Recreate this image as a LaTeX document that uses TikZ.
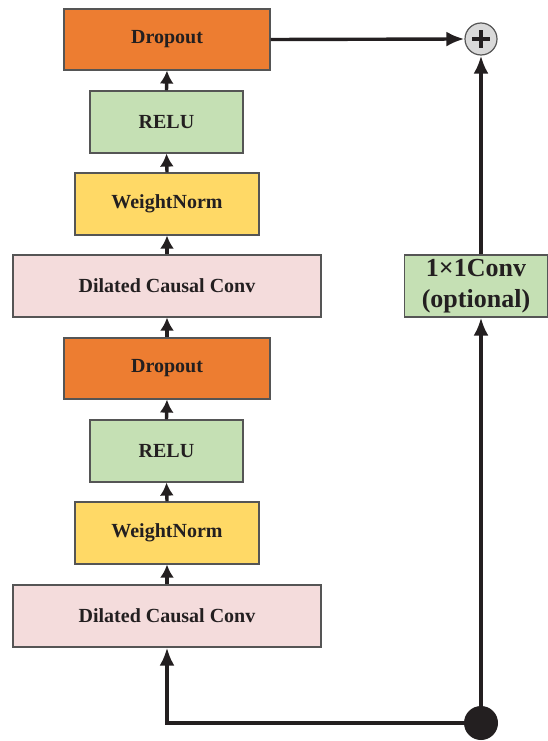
\documentclass[tikz,border=0pt]{standalone}
\usepackage{fontspec}
\setmainfont{Liberation Serif}
\usetikzlibrary{arrows.meta}
\definecolor{cdrop}{HTML}{ED7D31}
\definecolor{crelu}{HTML}{C5E0B4}
\definecolor{cwn}{HTML}{FFD966}
\definecolor{cdcc}{HTML}{F4DCDC}
\definecolor{cbord}{HTML}{555555}
\definecolor{cline}{HTML}{231F20}
\begin{document}
\begin{tikzpicture}[x=1pt,y=-1pt,
  blk/.style={draw=cbord,line width=1.2pt,inner sep=0pt,font=\fontsize{20}{22}\selectfont\bfseries,text=cline},
  conn/.style={draw=cline,line width=3.4pt,-{Latex[length=13pt,width=14pt]}},
  bigconn/.style={draw=cline,line width=3.4pt,-{Latex[length=18pt,width=15pt]}}]
\useasboundingbox (0,0) rectangle (548,741);
\node[blk,fill=cdrop,minimum width=206pt,minimum height=61pt] (d1) at (167,39.5) {Dropout};
\node[blk,fill=crelu,minimum width=153pt,minimum height=62pt] (r1) at (166.5,122) {RELU};
\node[blk,fill=cwn,minimum width=184pt,minimum height=62pt] (w1) at (167,204) {WeightNorm};
\node[blk,fill=cdcc,minimum width=308pt,minimum height=62pt] (c1) at (167,286) {Dilated Causal Conv};
\node[blk,fill=cdrop,minimum width=206pt,minimum height=61pt] (d2) at (167,368.5) {Dropout};
\node[blk,fill=crelu,minimum width=153pt,minimum height=62pt] (r2) at (166.5,451) {RELU};
\node[blk,fill=cwn,minimum width=184pt,minimum height=62pt] (w2) at (167,533) {WeightNorm};
\node[blk,fill=cdcc,minimum width=308pt,minimum height=62pt] (c2) at (167,616) {Dilated Causal Conv};
\node[blk,fill=crelu,minimum width=143pt,minimum height=62pt,align=center,font=\fontsize{26}{31}\selectfont\bfseries] (k) at (476,286) {1×1Conv\\(optional)};
\node[circle,draw=cbord,line width=1.2pt,fill=black!15,minimum size=32pt,inner sep=0pt] (p) at (481,39) {};
\draw[cline,line width=3.4pt] ([xshift=-9pt]p.center) -- ([xshift=9pt]p.center) ([yshift=-9pt]p.center) -- ([yshift=9pt]p.center);
\node[circle,fill=cline,minimum size=34pt,inner sep=0pt] (dot) at (481,723) {};
\coordinate (corner) at (167,723);
\draw[conn] (c2.north) -- (w2.south);
\draw[conn] (w2.north) -- (r2.south);
\draw[conn] (r2.north) -- (d2.south);
\draw[conn] (d2.north) -- (c1.south);
\draw[conn] (c1.north) -- (w1.south);
\draw[conn] (w1.north) -- (r1.south);
\draw[conn] (r1.north) -- (d1.south);
\draw[bigconn] (d1.east) -- (p.west);
\draw[bigconn] (dot.center) -- (corner) -- (c2.south);
\draw[bigconn] (dot.center) -- (dot.center |- k.south);
\draw[bigconn] (p.south |- k.north) -- (p.south);
\end{tikzpicture}
\end{document}
